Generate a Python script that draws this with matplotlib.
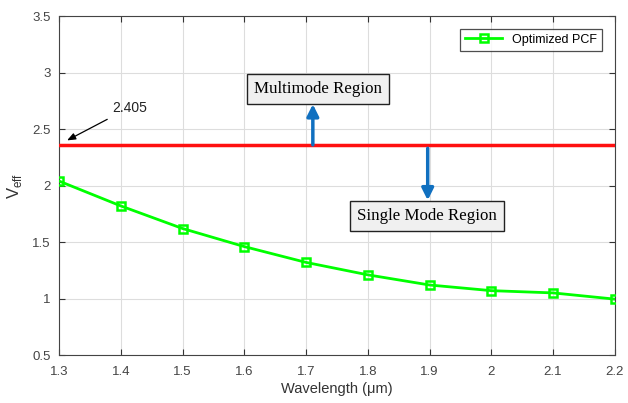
import matplotlib
matplotlib.use('Agg')
import matplotlib.pyplot as plt

# Datos
longitud_onda = [1.3, 1.4, 1.5, 1.6, 1.7, 1.8, 1.9, 2.0, 2.1, 2.2]
v_eff = [2.04, 1.82, 1.62, 1.46, 1.32, 1.21, 1.12, 1.07, 1.05, 0.995]
corte = 2.36
xticks = [1.3, 1.4, 1.5, 1.6, 1.7, 1.8, 1.9, 2.0, 2.1, 2.2]
xtick_labels = ['1.3', '1.4', '1.5', '1.6', '1.7', '1.8', '1.9', '2', '2.1', '2.2']
yticks = [0.5, 1, 1.5, 2, 2.5, 3, 3.5]
ytick_labels = ['0.5', '1', '1.5', '2', '2.5', '3', '3.5']

plt.rcParams['font.family'] = ['Liberation Sans', 'DejaVu Sans']

fig = plt.figure(figsize=(6.28, 4.03), dpi=100)
ax = fig.add_axes([0.094, 0.119, 0.885, 0.841])

ax.plot(longitud_onda, v_eff, color='#00ff00', linewidth=2, marker='s', markersize=6,
        markerfacecolor='none', markeredgewidth=1.8, label='Optimized PCF', zorder=4)
ax.axhline(corte, color='#ff1010', linewidth=2.5, zorder=3)

ax.set_xlim(1.3, 2.2)
ax.set_ylim(0.5, 3.5)
ax.set_xticks(xticks)
ax.set_xticklabels(xtick_labels)
ax.set_yticks(yticks)
ax.set_yticklabels(ytick_labels)
ax.tick_params(direction='in', top=True, right=True, labelsize=9.5, colors='#333333',
               labelcolor='#444444', length=4)
ax.tick_params(axis='x', pad=8)
ax.tick_params(axis='y', pad=6)
for s in ax.spines.values():
    s.set_color('#444444')
ax.grid(True, color='#dddddd', linewidth=0.8)
ax.set_axisbelow(True)

ax.set_xlabel('Wavelength (\u03bcm)', fontsize=10.5, color='#333333', labelpad=3)
ax.set_ylabel('V$_{\\mathregular{eff}}$', fontsize=12, color='#333333', labelpad=6)

caja = dict(boxstyle='square,pad=0.4', facecolor='#f0f0f0', edgecolor='#222222', linewidth=1)
ax.text(1.719, 2.854, 'Multimode Region', family='Liberation Serif', fontsize=12.2,
        ha='center', va='center', bbox=caja, zorder=6)
ax.text(1.896, 1.73, 'Single Mode Region', family='Liberation Serif', fontsize=12.2,
        ha='center', va='center', bbox=caja, zorder=6)

flecha = dict(arrowstyle='-|>,head_width=0.35,head_length=0.7', color='#1070c0', linewidth=2.5,
              shrinkA=0, shrinkB=0)
ax.annotate('', xy=(1.711, 2.72), xytext=(1.711, corte), arrowprops=flecha, zorder=5)
ax.annotate('', xy=(1.897, 1.87), xytext=(1.897, 2.33), arrowprops=flecha, zorder=5)

ax.annotate('2.405', xy=(1.313, 2.40), xytext=(1.386, 2.69), fontsize=10, color='#222222',
            ha='left', va='center',
            arrowprops=dict(arrowstyle='-|>,head_width=0.2,head_length=0.5', color='black',
                            linewidth=0.9, shrinkA=3, shrinkB=0))

leg = ax.legend(loc='upper right', fontsize=9, fancybox=False, edgecolor='#222222',
                borderaxespad=1.0, handlelength=3)
leg.get_frame().set_linewidth(0.9)

fig.savefig('out.png', dpi=100)
